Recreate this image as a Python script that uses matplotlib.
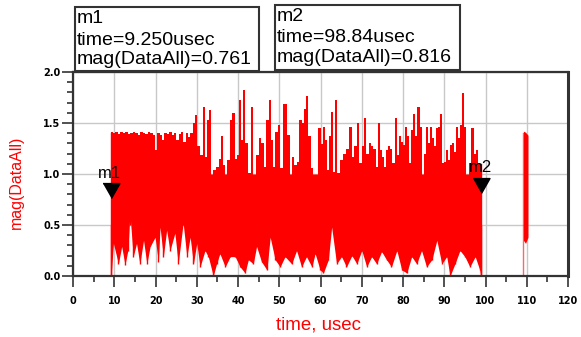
import numpy as np
import matplotlib
matplotlib.use("Agg")
import matplotlib.pyplot as plt
from matplotlib.ticker import MultipleLocator
from matplotlib.patches import Rectangle

# ---------------- data ----------------
sig_start = 9.25
sig_end = 98.84

# upper edge of the envelope (time in usec, magnitude)
hi_t = [9.25, 9.4, 10.0, 10.6, 11.2, 11.8, 12.4, 13.0, 13.6, 14.2, 14.8, 15.4, 16.0, 16.6,
        17.2, 17.8, 18.4, 19.0, 19.6, 20.2, 20.7, 21.3, 21.8, 22.4, 23.0, 23.6, 24.2,
        24.8, 25.3, 25.9, 26.5, 27.0, 27.6, 28.1, 28.7,
        29.3, 29.8, 30.5, 31.1, 31.7, 32.2, 32.6, 33.1, 33.7, 34.3, 35.0, 35.6, 36.2,
        36.7, 37.2, 37.7, 38.3, 38.9, 39.5, 40.1, 40.6, 41.0, 41.5, 42.0, 42.7, 43.4,
        44.0, 44.7, 45.3, 45.9, 46.5, 47.1, 47.8, 48.3, 48.8, 49.3, 49.9, 50.5, 51.1,
        51.6, 52.3, 52.8, 53.3, 53.9, 54.5, 55.2, 55.8, 56.2, 56.7, 57.3, 57.9, 58.6,
        59.2, 59.8, 60.4, 60.9, 61.4, 61.9, 62.4, 62.9, 63.3, 63.8, 64.4,
        65.1, 65.8, 66.6, 67.2, 67.9, 68.5, 69.1, 69.7, 70.2, 70.8, 71.4, 71.9, 72.5,
        73.1, 73.6, 74.1, 74.6, 75.1, 75.6, 76.0, 76.5, 77.1, 77.7, 78.3, 78.8, 79.3,
        79.8, 80.2, 80.7, 81.2, 81.7, 82.2, 82.7, 83.2, 83.7, 84.3, 84.8, 85.3, 85.7,
        86.2, 86.7, 87.2, 87.7, 88.2, 88.7, 89.1, 89.6, 90.1, 90.6, 91.1, 91.6, 92.0,
        92.5, 93.0, 93.5, 94.0, 94.6, 95.1, 95.6, 96.2, 96.8, 97.4, 98.0, 98.6, 98.84]
hi_v = [1.40, 1.41, 1.40, 1.41, 1.39, 1.41, 1.40, 1.41, 1.39, 1.40, 1.41, 1.40, 1.38, 1.41,
        1.40, 1.39, 1.41, 1.40, 1.38, 1.24, 1.40, 1.38, 1.33, 1.40, 1.39, 1.41, 1.38,
        1.40, 1.33, 1.39, 1.41, 1.31, 1.40, 1.36, 1.40,
        1.50, 1.58, 1.27, 1.19, 1.66, 1.17, 1.53, 1.63, 0.80, 1.04, 1.07, 1.15, 1.37,
        1.09, 0.83, 1.14, 1.53, 1.60, 1.15, 1.19, 1.73, 1.33, 1.82, 1.30, 1.01, 1.66,
        0.91, 1.19, 1.35, 1.30, 1.07, 1.53, 1.73, 1.33, 1.07, 1.41, 1.48, 1.06, 1.69,
        1.69, 1.38, 0.91, 1.17, 1.09, 1.12, 1.53, 1.50, 1.64, 1.76, 1.37, 1.06, 0.91,
        0.96, 1.45, 1.29, 1.46, 1.33, 1.04, 1.37, 1.61, 1.02, 1.73, 1.01,
        1.14, 1.20, 1.25, 1.46, 1.17, 1.27, 1.50, 1.11, 1.27, 1.55, 1.20, 1.30, 1.27,
        1.25, 1.07, 1.50, 1.24, 1.17, 1.07, 1.24, 1.27, 1.25, 1.11, 1.55, 1.19, 1.37,
        1.31, 1.28, 1.46, 1.37, 1.11, 1.43, 1.59, 1.37, 1.66, 1.46, 0.94, 1.20, 1.46,
        1.30, 1.46, 1.35, 1.27, 1.45, 1.46, 1.59, 1.11, 1.12, 1.24, 1.14, 1.28, 1.30,
        1.22, 1.46, 1.35, 1.48, 1.79, 1.46, 0.84, 1.11, 1.45, 1.20, 1.24, 1.10, 1.10]

# lower edge of the envelope
lo_t = [9.25, 9.8, 11.0, 11.8, 12.6, 13.3, 13.8, 14.6, 15.4, 16.2, 17.1, 17.9, 18.7, 19.9,
        20.7, 21.1, 21.9, 22.7, 23.5, 24.7, 25.5, 26.7, 27.6, 28.4, 29.2, 30.0, 30.8,
        32.0, 32.8, 34.0, 34.8, 35.6, 36.9, 38.1,
        39.3, 40.5, 41.7, 42.5, 43.7, 44.5, 45.7, 47.0, 47.8, 49.0, 50.2, 51.4, 53.0,
        54.2, 55.4, 56.6, 57.9, 58.7, 59.9, 60.7, 61.9, 62.7, 63.9, 65.1, 66.3, 67.6, 68.8,
        70.0, 71.2, 72.4, 73.6, 74.8, 76.0, 77.2, 78.5, 79.7, 80.9, 82.1, 83.3, 84.5,
        85.7, 87.0, 88.2, 89.4, 90.6, 91.4, 92.6, 93.8, 95.0, 96.2, 97.5, 98.6, 98.84]
lo_v = [0.00, 0.32, 0.12, 0.29, 0.11, 0.25, 0.61, 0.19, 0.32, 0.12, 0.35, 0.12, 0.29, 0.38,
        0.14, 0.48, 0.19, 0.45, 0.25, 0.42, 0.12, 0.52, 0.19, 0.38, 0.12, 0.32, 0.09,
        0.25, 0.19, 0.00, 0.12, 0.22, 0.09, 0.19,
        0.19, 0.09, 0.03, 0.16, 0.12, 0.29, 0.14, 0.06, 0.38, 0.16, 0.09, 0.19, 0.12,
        0.25, 0.09, 0.19, 0.09, 0.22, 0.06, 0.03, 0.16, 0.48, 0.12, 0.19, 0.09, 0.20, 0.12,
        0.25, 0.09, 0.19, 0.12, 0.24, 0.16, 0.09, 0.25, 0.06, 0.03, 0.19, 0.12, 0.25,
        0.09, 0.16, 0.35, 0.12, 0.19, 0.00, 0.12, 0.25, 0.19, 0.09, 0.19, 0.06, 0.00]

# flat (zero) stretches
zero1_t = [0.0, sig_start]
zero2_t = [sig_end, 109.0]
zero_v = [0.0, 0.0]

# short burst near 110 usec
burst_edge_t = 109.0
burst_edge_hi = 1.40
burst_t = [109.2, 109.7, 110.3]
burst_lo = [0.35, 0.32, 0.38]
burst_hi = [1.42, 1.41, 1.38]

# markers
m_names = ["m1", "m2"]
m_time = [9.250, 98.84]
m_val = [0.761, 0.816]

RED = "#ff0000"
FRAME = "#333333"

# ---------------- figure ----------------
W, H = 581, 337
fig = plt.figure(figsize=(W / 100, H / 100), dpi=100)
ax = fig.add_axes([73 / W, 1 - 276 / H, 495 / W, 204 / H])
ax.set_xlim(0, 120)
ax.set_ylim(0, 2.0)

ax.set_axisbelow(True)
ax.grid(True, which="major", color="#c8c8c8", lw=1.0)

# signal
ax.fill_between(hi_t, 0.9, hi_v, step="mid", color=RED, lw=0, zorder=2)
ax.fill_between(lo_t, lo_v, 1.0, color=RED, lw=0, zorder=2)
ax.vlines(lo_t, lo_v, 0.5, color=RED, lw=1.0, zorder=2)
ax.plot([sig_start, sig_start], [0, hi_v[0]], color=RED, lw=1.0, zorder=2)
ax.plot([sig_end, sig_end], [0, hi_v[-1]], color=RED, lw=1.0, zorder=2)
ax.plot(zero1_t, zero_v, color=RED, lw=1.3, alpha=0.6, zorder=2)
ax.plot(zero2_t, zero_v, color=RED, lw=1.3, alpha=0.6, zorder=2)
ax.plot([burst_edge_t, burst_edge_t], [0, burst_edge_hi], color=RED, lw=1.0, alpha=0.6, zorder=2)
ax.fill_between(burst_t, burst_lo, burst_hi, color=RED, lw=0, zorder=2)

# markers
tri = [(-0.5, 0.88), (0.5, 0.88), (0.0, 0.0)]
offs = [(-1.5, 14.4), (0.0, 15.0)]
for name, t, v, o in zip(m_names, m_time, m_val, offs):
    ax.plot(t, v, marker=tri, ms=21.5, color="black", ls="none", clip_on=False, zorder=6)
    ax.annotate(name, xy=(t, v), xytext=o, textcoords="offset points",
                ha="center", va="baseline", fontsize=12, family="Liberation Sans",
                color="black", zorder=6)

# ticks
ax.set_xticks(np.arange(0, 121, 10))
ax.set_xticklabels([str(v) for v in range(0, 121, 10)], fontsize=7, fontweight="bold",
                   family="DejaVu Sans")
ax.set_yticks(np.arange(0, 2.01, 0.5))
ax.set_yticklabels(["%.1f" % v for v in np.arange(0, 2.01, 0.5)], fontsize=7,
                   fontweight="bold", family="DejaVu Sans")
ax.xaxis.set_minor_locator(MultipleLocator(5))
ax.yaxis.set_minor_locator(MultipleLocator(0.1))
ax.tick_params(which="major", direction="out", length=8, width=1.2, color=FRAME)
ax.tick_params(which="minor", direction="out", length=4, width=1.2, color=FRAME)
ax.tick_params(axis="x", which="major", pad=6.5)
ax.tick_params(axis="y", which="major", pad=1)

for side in ["left", "bottom", "top"]:
    ax.spines[side].set_color(FRAME)
    ax.spines[side].set_linewidth(1.6)
ax.spines["right"].set_color(FRAME)
ax.spines["right"].set_linewidth(2.2)

# axis labels
fig.text(16 / W, 1 - 182 / H, "mag(DataAll)", rotation=90, color=RED, fontsize=11.5,
         family="Liberation Sans", ha="center", va="center")
fig.text(318 / W, 1 - 325 / H, "time, usec", color=RED, fontsize=13.5,
         family="Liberation Sans", ha="center", va="center")

# marker readout boxes
boxes = [(75, 7, 259, 71), (275, 5, 460, 70)]
baselines = [(23, 45, 64), (21, 42, 62)]
for name, t, v, (x0, y0, x1, y1), bl in zip(m_names, m_time, m_val, boxes, baselines):
    fig.add_artist(Rectangle((x0 / W, 1 - y1 / H), (x1 - x0) / W, (y1 - y0) / H,
                             transform=fig.transFigure, fill=False, ec=FRAME, lw=1.5))
    lines = [name, "time=%s usec" % ("%.3f" % t if t < 10 else "%.2f" % t),
             "mag(DataAll)=%.3f" % v]
    lines[1] = lines[1].replace(" ", "")
    for txt, b in zip(lines, bl):
        fig.text((x0 + 2) / W, 1 - b / H, txt, fontsize=14, family="Liberation Sans",
                 ha="left", va="baseline", color="black")

fig.savefig("out.png", dpi=100)
